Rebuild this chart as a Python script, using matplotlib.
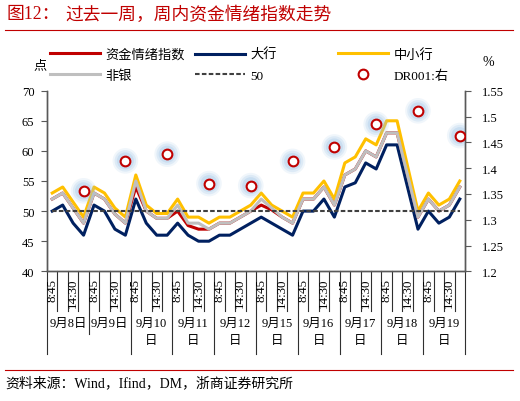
import matplotlib
matplotlib.use('Agg')
import matplotlib.pyplot as plt
import matplotlib.transforms as mtransforms
from matplotlib.lines import Line2D
import numpy as np

plt.rcParams['font.family'] = ['Liberation Serif', 'Noto Sans CJK SC']

# categories: 10 days x 4 slots, only 8:45 and 14:30 labelled
days = ['9月8日', '9月9日', '9月10日', '9月11日', '9月12日',
        '9月15日', '9月16日', '9月17日', '9月18日', '9月19日']
slot_labels = ['8:45', '', '14:30', '']

# 资金情绪指数
sentiment = [52, 53, 50.5, 48, 53, 52, 49.5, 48, 54, 50,
             48.8, 48.8, 50, 47.6, 47, 47, 48, 48, 49, 50,
             51, 50.2, 49, 48, 52, 52, 54, 51, 56, 57,
             60, 59, 63, 63, 56, 49, 52, 50, 51, 54]
# 大行
big_bank = [50, 51, 48, 46, 51, 50, 47, 46, 52, 48,
            46, 46, 48, 46, 45, 45, 46, 46, 47, 48,
            49, 48, 47, 46, 50, 50, 52, 49, 54, 54.7,
            58, 57, 61, 61, 54, 47, 50, 48, 49, 52]
# 中小行
small_bank = [53, 54, 51.5, 49, 54, 53, 50.5, 49, 56, 51,
              49.6, 49.6, 52, 49, 49, 48, 49, 49, 50, 51,
              53, 51, 50, 49, 53, 53, 55, 52, 58, 59,
              62, 61, 65, 65, 57.5, 50, 53, 51, 52, 55]
# 非银
non_bank = [52, 53, 50.5, 48, 53, 52, 49.5, 48, 55, 50,
            48.8, 48.8, 51, 48, 48, 47, 48, 48, 49, 50,
            52, 50.5, 49, 48, 52, 52, 54, 51, 56, 57,
            60, 59, 63, 63, 56, 49, 52, 50, 51, 54]
baseline = [50] * 40
# DR001 (right axis), one per day at the last slot
dr001 = [1.356, 1.414, 1.427, 1.370, 1.366, 1.413, 1.441, 1.485, 1.511, 1.463]

W, H = 520, 402
def fx(px):
    return px / W
def fy(py):
    return 1 - py / H

n = len(days) * len(slot_labels)
x = np.arange(n)
dr_x = x[len(slot_labels) - 1::len(slot_labels)]

fig = plt.figure(figsize=(W / 100, H / 100), dpi=100)
ax = fig.add_axes([fx(47), fy(272.3), fx(465 - 47), (272.3 - 91.7) / H])
ax2 = ax.twinx()

lw = 2.2
h_red, = ax.plot(x, sentiment, color='#C00000', lw=lw, label='资金情绪指数', zorder=2)
h_navy, = ax.plot(x, big_bank, color='#002060', lw=lw, label='大行', zorder=3)
h_yel, = ax.plot(x, small_bank, color='#FFC000', lw=lw, label='中小行', zorder=3)
h_gray, = ax.plot(x, non_bank, color='#BFBFBF', lw=lw, label='非银', zorder=4)
h_50, = ax.plot(x, baseline, color='#404040', lw=1.5, ls=(0, (2.2, 1.1)), label='50', zorder=5)

# glow around DR001 markers
for s, a in [(340, 0.15), (240, 0.22), (150, 0.3)]:
    ax2.scatter(dr_x, dr001, s=s, color='#9DC3E6', alpha=a, edgecolors='none', zorder=1)
h_dr, = ax2.plot(dr_x, dr001, 'o', ms=7, mfc='white', mec='#C00000', mew=1.5,
                 ls='none', label='DR001:右', zorder=3)

ax.set_xlim(-0.5, n - 0.5)
ax.set_ylim(40, 70)
ax.set_yticks(np.arange(40, 71, 5))
ax2.set_ylim(1.2, 1.55)
ax2.set_yticks(np.arange(1.2, 1.551, 0.05))
ax2.set_yticklabels(['{:g}'.format(round(v, 2)) for v in np.arange(1.2, 1.551, 0.05)])
ax.set_xticks([])

for a in (ax, ax2):
    a.spines['top'].set_visible(False)
    for side in ('left', 'right', 'bottom'):
        a.spines[side].set_color('#595959')
        a.spines[side].set_linewidth(1)
    a.tick_params(axis='y', direction='out', length=4, color='#595959',
                  labelsize=9, labelcolor='black')
ax.tick_params(axis='y', pad=5)
ax2.tick_params(axis='y', pad=8)

# multi-level category axis
trans = mtransforms.blended_transform_factory(ax.transData, fig.transFigure)
per = len(slot_labels)
for k in range(n + 1):
    if k % per == 0:
        bottom = 335 if k == per else 355
    else:
        bottom = 312
    ax.add_line(Line2D([k - 0.5, k - 0.5], [fy(272.3), fy(bottom)], transform=trans,
                       color='#303030', lw=0.8, clip_on=False))
for i in range(n):
    lab = slot_labels[i % per]
    if lab:
        ax.text(i, fy(279), lab, transform=trans, rotation=90, ha='center', va='top',
                fontsize=9.4)
for d, lab in enumerate(days):
    txt = lab if len(lab) <= 4 else lab[:-1] + '\n' + lab[-1]
    ax.text(d * per + (per - 1) / 2, fy(318), txt, transform=trans, ha='center',
            va='top', fontsize=9, linespacing=1.6)
ax.set_xlim(-0.5, n - 0.5)

# legend, three columns
legend_kw = dict(loc='upper left', frameon=False, borderpad=0, borderaxespad=0,
                 handlelength=3.8, handletextpad=0.4, labelspacing=0.65,
                 prop={'size': 9.5})
fig.legend(handles=[h_red, h_gray], bbox_to_anchor=(fx(50), fy(49)), **legend_kw)
fig.legend(handles=[h_navy, h_50], bbox_to_anchor=(fx(195), fy(49)), **legend_kw)
fig.legend(handles=[h_yel, h_dr], bbox_to_anchor=(fx(338), fy(49)), **legend_kw)

fig.text(fx(40), fy(66), '点', ha='center', va='center', fontsize=9.5)
fig.text(fx(488), fy(63), '%', ha='center', va='center', fontsize=10)

# title and source
fig.text(fx(6), fy(15), '图12：', color='#C00000', fontsize=12.8, va='center')
fig.text(fx(65), fy(15), '过去一周，周内资金情绪指数走势', color='#C00000',
         fontsize=12.8, va='center')
fig.add_artist(Line2D([fx(5), fx(513)], [fy(31), fy(31)], color='#C00000', lw=0.8))
fig.add_artist(Line2D([fx(5), fx(513)], [fy(371), fy(371)], color='#C00000', lw=0.8))
fig.text(fx(5), fy(383), '资料来源：Wind，Ifind，DM，浙商证券研究所', fontsize=10, va='center')

fig.savefig('out.png', dpi=100)
